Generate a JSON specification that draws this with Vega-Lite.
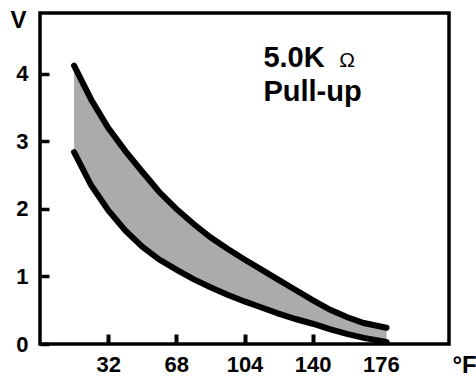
{
  "$schema": "https://vega.github.io/schema/vega-lite/v6.json",
  "autosize": "none",
  "width": 409,
  "height": 331,
  "padding": {"left": 40, "top": 13, "right": 27, "bottom": 33},
  "background": "white",
  "config": {
    "view": {"stroke": "black", "strokeWidth": 3.5},
    "font": "Liberation Sans"
  },
  "datasets": {
    "band": [
      {"f": 14, "upper": 4.12, "lower": 2.84},
      {"f": 23, "upper": 3.62, "lower": 2.35},
      {"f": 32, "upper": 3.20, "lower": 1.98},
      {"f": 41, "upper": 2.86, "lower": 1.68},
      {"f": 50, "upper": 2.55, "lower": 1.44},
      {"f": 59, "upper": 2.25, "lower": 1.25},
      {"f": 68, "upper": 2.00, "lower": 1.10},
      {"f": 77, "upper": 1.78, "lower": 0.96},
      {"f": 86, "upper": 1.58, "lower": 0.84},
      {"f": 95, "upper": 1.41, "lower": 0.73},
      {"f": 104, "upper": 1.25, "lower": 0.63},
      {"f": 113, "upper": 1.10, "lower": 0.54},
      {"f": 122, "upper": 0.95, "lower": 0.45},
      {"f": 131, "upper": 0.80, "lower": 0.37},
      {"f": 140, "upper": 0.65, "lower": 0.30},
      {"f": 149, "upper": 0.51, "lower": 0.22},
      {"f": 158, "upper": 0.40, "lower": 0.15},
      {"f": 167, "upper": 0.31, "lower": 0.09},
      {"f": 179, "upper": 0.24, "lower": 0.03}
    ],
    "notes": [
      {"f": 114, "v": 4.1, "label": "5.0K", "kind": "big"},
      {"f": 114, "v": 3.6, "label": "Pull-up", "kind": "big"},
      {"f": 154, "v": 4.1, "label": "Ω", "kind": "small"}
    ]
  },
  "layer": [
    {
      "data": {"name": "band"},
      "mark": {"type": "area", "color": "#ababab"},
      "encoding": {
        "x": {
          "field": "f", "type": "quantitative",
          "scale": {"domain": [-4, 212], "nice": false, "zero": false},
          "axis": {
            "values": [32, 68, 104, 140, 176],
            "format": "d",
            "offset": -10,
            "domain": false,
            "title": "°F",
            "titleAngle": 0, "titleAlign": "left", "titleBaseline": "alphabetic",
            "titleX": 412, "titleY": 38,
            "titleFontSize": 24, "titleFontWeight": "bold", "titleColor": "black",
            "labelFontSize": 22, "labelFontWeight": "bold", "labelColor": "black",
            "labelPadding": 10, "labelDx": 5,
            "ticks": true, "tickSize": 10, "tickWidth": 4, "tickColor": "black",
            "grid": false
          }
        },
        "y": {
          "field": "upper", "type": "quantitative",
          "scale": {"domain": [0, 4.9], "nice": false},
          "axis": {
            "values": [0, 1, 2, 3, 4],
            "format": "d",
            "offset": -9,
            "domain": false,
            "title": "V",
            "titleAngle": 0, "titleAlign": "center", "titleBaseline": "alphabetic",
            "titleX": -31, "titleY": 14,
            "titleFontSize": 24, "titleFontWeight": "bold", "titleColor": "black",
            "labelFontSize": 22, "labelFontWeight": "bold", "labelColor": "black",
            "labelPadding": 12,
            "ticks": true, "tickSize": 9, "tickWidth": 3.5, "tickColor": "black",
            "grid": false
          }
        },
        "y2": {"field": "lower"}
      }
    },
    {
      "data": {"name": "band"},
      "mark": {"type": "line", "color": "black", "strokeWidth": 6, "strokeCap": "round"},
      "encoding": {
        "x": {"field": "f", "type": "quantitative"},
        "y": {"field": "upper", "type": "quantitative"}
      }
    },
    {
      "data": {"name": "band"},
      "mark": {"type": "line", "color": "black", "strokeWidth": 6, "strokeCap": "round"},
      "encoding": {
        "x": {"field": "f", "type": "quantitative"},
        "y": {"field": "lower", "type": "quantitative"}
      }
    },
    {
      "data": {"name": "notes"},
      "transform": [{"filter": "datum.kind == 'big'"}],
      "mark": {"type": "text", "align": "left", "baseline": "alphabetic", "fontSize": 29, "fontWeight": "bold", "color": "black"},
      "encoding": {
        "x": {"field": "f", "type": "quantitative"},
        "y": {"field": "v", "type": "quantitative"},
        "text": {"field": "label"}
      }
    },
    {
      "data": {"name": "notes"},
      "transform": [{"filter": "datum.kind == 'small'"}],
      "mark": {"type": "text", "align": "left", "baseline": "alphabetic", "fontSize": 21, "color": "black"},
      "encoding": {
        "x": {"field": "f", "type": "quantitative"},
        "y": {"field": "v", "type": "quantitative"},
        "text": {"field": "label"}
      }
    }
  ]
}
